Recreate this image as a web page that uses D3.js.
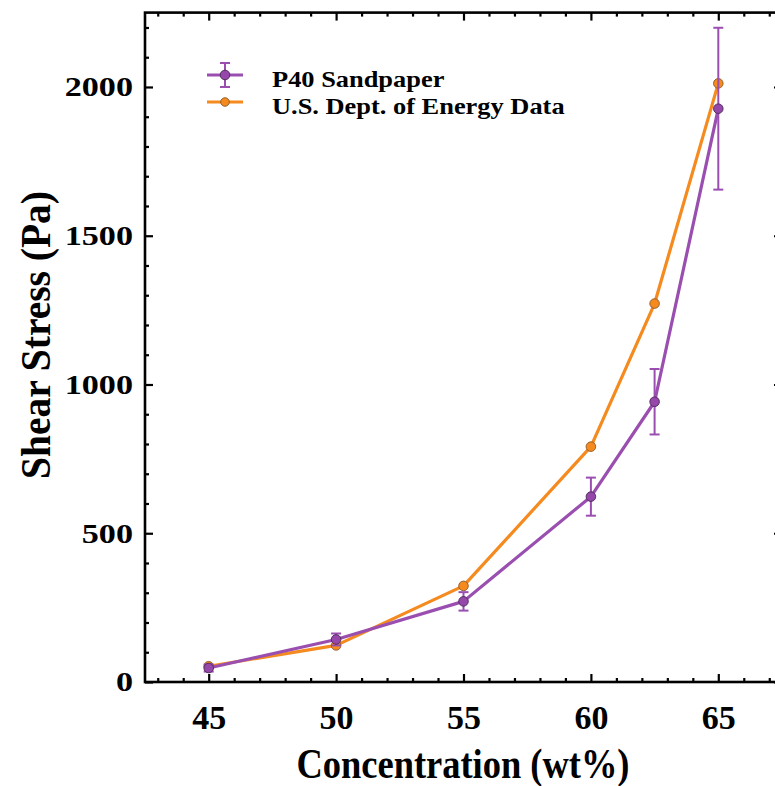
<!DOCTYPE html>
<html>
<head>
<meta charset="utf-8">
<script src="https://cdn.jsdelivr.net/npm/d3@7"></script>
<style>
  html, body { margin: 0; padding: 0; background: #fff; }
  svg { display: block; }
  text { font-family: "Liberation Serif", "Times New Roman", serif; font-weight: bold; fill: #000; }
</style>
</head>
<body>
<svg id="chart" width="775" height="786"></svg>
<script>
// Concentration (wt%) values
const concentrations = [45, 50, 55, 60, 62.5, 65];
// P40 sandpaper measurements (Pa) with error half-widths
const sandpaperStress = [47, 143, 271, 623, 942, 1927];
const sandpaperError = [12, 20, 31, 64, 110, 272];
// U.S. Dept. of Energy reference data (Pa)
const doeStress = [53, 123, 323, 791, 1272, 2012];

const xTickValues = [45, 50, 55, 60, 65];
const yTickValues = [0, 500, 1000, 1500, 2000];
const seriesNames = ["P40 Sandpaper", "U.S. Dept. of Energy Data"];

const purple = "#9a4fb0";
const purpleDot = "#9548aa";
const orange = "#f58a1f";

const svg = d3.select("#chart");
const W = 775, H = 786;
svg.append("rect").attr("width", W).attr("height", H).attr("fill", "#fff");

const plotLeft = 145, plotRight = 782, plotTop = 12.6, plotBottom = 682;
const x = d3.scaleLinear().domain([42.5, 67.5]).range([plotLeft, plotRight]);
const y = d3.scaleLinear().domain([0, 2250]).range([plotBottom, plotTop]);

// stretch text horizontally by a factor
function stretch(sel, f) {
  sel.each(function () {
    const w = this.getComputedTextLength();
    d3.select(this).attr("textLength", w * f).attr("lengthAdjust", "spacingAndGlyphs");
  });
}

const xMinor = d3.range(43, 68, 1).filter(v => v % 5 !== 0);
const yMinor = d3.range(100, 2250, 100).filter(v => v % 500 !== 0);

function axisStyle(g) {
  g.select(".domain").remove();
  g.selectAll(".tick line").attr("stroke", "#000").attr("stroke-width", 2.2);
}

// bottom axis
svg.append("g").attr("transform", `translate(0,${plotBottom})`)
  .call(d3.axisBottom(x).tickValues(xMinor).tickSize(-4).tickFormat(""))
  .call(axisStyle);
const gx = svg.append("g").attr("transform", `translate(0,${plotBottom})`)
  .call(d3.axisBottom(x).tickValues(xTickValues).tickSize(-8).tickPadding(23).tickFormat(d3.format("d")))
  .call(axisStyle);
gx.selectAll("text").attr("font-size", 34).attr("font-family", "Liberation Serif").call(stretch, 1.0);

// top axis
svg.append("g").attr("transform", `translate(0,${plotTop})`)
  .call(d3.axisTop(x).tickValues(xMinor).tickSize(-4).tickFormat(""))
  .call(axisStyle);
svg.append("g").attr("transform", `translate(0,${plotTop})`)
  .call(d3.axisTop(x).tickValues(xTickValues).tickSize(-8).tickFormat(""))
  .call(axisStyle);

// left axis
svg.append("g").attr("transform", `translate(${plotLeft},0)`)
  .call(d3.axisLeft(y).tickValues(yMinor).tickSize(-4).tickFormat(""))
  .call(axisStyle);
const gy = svg.append("g").attr("transform", `translate(${plotLeft},0)`)
  .call(d3.axisLeft(y).tickValues(yTickValues).tickSize(-8).tickPadding(12).tickFormat(d3.format("d")))
  .call(axisStyle);
gy.selectAll("text").attr("font-size", 28).attr("font-family", "Liberation Serif").call(stretch, 1.22);

// right axis
svg.append("g").attr("transform", `translate(${plotRight},0)`)
  .call(d3.axisRight(y).tickValues(yMinor).tickSize(-4).tickFormat(""))
  .call(axisStyle);
svg.append("g").attr("transform", `translate(${plotRight},0)`)
  .call(d3.axisRight(y).tickValues(yTickValues).tickSize(-8).tickFormat(""))
  .call(axisStyle);

// frame
svg.append("rect").attr("x", plotLeft).attr("y", plotTop)
  .attr("width", plotRight - plotLeft).attr("height", plotBottom - plotTop)
  .attr("fill", "none").attr("stroke", "#000").attr("stroke-width", 2.6);

const line = d3.line().x(d => x(d[0])).y(d => y(d[1]));
const doePts = concentrations.map((c, i) => [c, doeStress[i]]);
const sandPts = concentrations.map((c, i) => [c, sandpaperStress[i]]);

// DOE series
svg.append("path").datum(doePts).attr("d", line)
  .attr("fill", "none").attr("stroke", orange).attr("stroke-width", 3.2).attr("stroke-linejoin", "round");
svg.selectAll(".doe").data(doePts).join("circle")
  .attr("cx", d => x(d[0])).attr("cy", d => y(d[1])).attr("r", 4.8)
  .attr("fill", orange).attr("stroke", "#8a5a2a").attr("stroke-width", 0.9);

// sandpaper series
svg.append("path").datum(sandPts).attr("d", line)
  .attr("fill", "none").attr("stroke", purple).attr("stroke-width", 3.2).attr("stroke-linejoin", "round");
const eb = svg.append("g");
concentrations.forEach((c, i) => {
  const cx = x(c), y0 = y(sandpaperStress[i] - sandpaperError[i]), y1 = y(sandpaperStress[i] + sandpaperError[i]);
  eb.append("line").attr("x1", cx).attr("x2", cx).attr("y1", y0).attr("y2", y1)
    .attr("stroke", purple).attr("stroke-width", 2);
  [y0, y1].forEach(yy => eb.append("line").attr("x1", cx - 5).attr("x2", cx + 5).attr("y1", yy).attr("y2", yy)
    .attr("stroke", purple).attr("stroke-width", 2));
});
svg.selectAll(".sand").data(sandPts).join("circle")
  .attr("cx", d => x(d[0])).attr("cy", d => y(d[1])).attr("r", 4.8)
  .attr("fill", purpleDot).attr("stroke", "#4a2a55").attr("stroke-width", 0.9);

// legend
const lg = svg.append("g");
const lx0 = 207, lx1 = 243, lxm = 225;
lg.append("line").attr("x1", lx0).attr("x2", lx1).attr("y1", 75).attr("y2", 75).attr("stroke", purple).attr("stroke-width", 3.2);
lg.append("line").attr("x1", lxm).attr("x2", lxm).attr("y1", 63).attr("y2", 87).attr("stroke", purple).attr("stroke-width", 2);
[63, 87].forEach(yy => lg.append("line").attr("x1", lxm - 5).attr("x2", lxm + 5).attr("y1", yy).attr("y2", yy).attr("stroke", purple).attr("stroke-width", 2));
lg.append("circle").attr("cx", lxm).attr("cy", 75).attr("r", 4.8).attr("fill", purpleDot).attr("stroke", "#4a2a55").attr("stroke-width", 0.9);
lg.append("line").attr("x1", lx0).attr("x2", lx1).attr("y1", 102).attr("y2", 102).attr("stroke", orange).attr("stroke-width", 3.2);
lg.append("circle").attr("cx", lxm).attr("cy", 102).attr("r", 4.3).attr("fill", orange).attr("stroke", "#8a5a2a").attr("stroke-width", 0.9);
lg.append("text").attr("x", 272).attr("y", 87).attr("font-size", 24).text(seriesNames[0]).call(stretch, 1.1);
lg.append("text").attr("x", 272).attr("y", 114).attr("font-size", 24).text(seriesNames[1]).call(stretch, 1.1);

// axis titles
svg.append("text").attr("x", 463).attr("y", 778).attr("text-anchor", "middle")
  .attr("font-size", 42).text("Concentration (wt%)")
  .each(function () { d3.select(this).attr("textLength", 333).attr("lengthAdjust", "spacingAndGlyphs"); });
svg.append("text").attr("transform", "translate(50,335) rotate(-90)").attr("text-anchor", "middle")
  .attr("font-size", 42).text("Shear Stress (Pa)")
  .each(function () { d3.select(this).attr("textLength", 288).attr("lengthAdjust", "spacingAndGlyphs"); });
</script>
</body>
</html>
